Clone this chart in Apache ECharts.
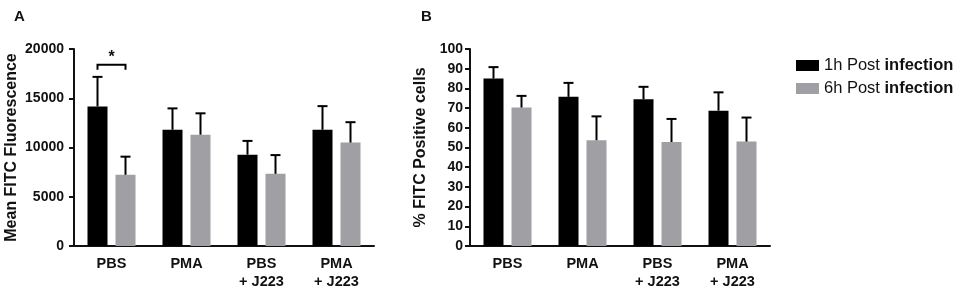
<!DOCTYPE html>
<html>
<head>
<meta charset="utf-8">
<script src="https://cdn.jsdelivr.net/npm/echarts@6/dist/echarts.min.js"></script>
<style>
  html, body { margin: 0; padding: 0; background: #fff; }
  #main { width: 957px; height: 291px; }
</style>
</head>
<body>
<div id="main"></div>
<script>
// Data
var categories = ['PBS', 'PMA', 'PBS\n+ J223', 'PMA\n+ J223'];
var seriesNames = ['1h Post infection', '6h Post infection'];

// Panel A: mean FITC fluorescence (mean, SD)
var mfi1h = [14170, 11800, 9270, 11800];
var mfi1hErr = [3000, 2170, 1400, 2400];
var mfi6h = [7230, 11300, 7330, 10500];
var mfi6hErr = [1840, 2170, 1900, 2070];

// Panel B: % FITC positive cells (mean, SD)
var pct1h = [85, 75.7, 74.5, 68.7];
var pct1hErr = [5.8, 7.1, 6.3, 9.3];
var pct6h = [70.3, 53.7, 52.8, 53];
var pct6hErr = [5.9, 12.1, 11.7, 12.2];

// significance bracket on panel A
var sigCat = 0;
var sigLevel = 18400;
var sigText = '*';

var black = '#000000';
var grey = '#a0a0a4';
var font = 'Liberation Sans, Arial, sans-serif';
var barW = 20;
var half = 14; // distance of each bar centre from the category centre

var myChart = echarts.init(document.getElementById('main'));

function errData(vals, errs) {
  return vals.map(function (v, i) { return [i, v, errs[i]]; });
}

function errSeries(name, xi, vals, errs, dir) {
  return {
    type: 'custom',
    name: name + ' err',
    xAxisIndex: xi,
    yAxisIndex: xi,
    z: 5,
    silent: true,
    encode: { x: 0, y: 1 },
    data: errData(vals, errs),
    renderItem: function (params, api) {
      var p = api.coord([api.value(0), api.value(1)]);
      var t = api.coord([api.value(0), api.value(1) + api.value(2)]);
      var x = p[0] + dir * half;
      var st = { stroke: '#000', lineWidth: 2 };
      return {
        type: 'group',
        children: [
          { type: 'line', shape: { x1: x, y1: p[1], x2: x, y2: t[1] }, style: st },
          { type: 'line', shape: { x1: x - 5, y1: t[1], x2: x + 5, y2: t[1] }, style: st }
        ]
      };
    }
  };
}

function barSeries(name, xi, vals, color) {
  return {
    type: 'bar',
    name: name,
    xAxisIndex: xi,
    yAxisIndex: xi,
    barWidth: barW,
    barGap: '40%',
    itemStyle: { color: color },
    data: vals
  };
}

var axisLine = { lineStyle: { color: '#111', width: 2 } };

function xAxis(gi) {
  return {
    type: 'category',
    gridIndex: gi,
    data: categories,
    axisLine: axisLine,
    axisTick: { alignWithLabel: true, length: 5, lineStyle: { width: 2, color: '#111' } },
    axisLabel: {
      margin: 9, lineHeight: 18, interval: 0,
      color: '#111', fontFamily: font, fontWeight: 'bold', fontSize: 14.5
    }
  };
}

function yAxis(gi, max, interval, name, gap, margin) {
  return {
    type: 'value',
    gridIndex: gi,
    min: 0,
    max: max,
    interval: interval,
    name: name,
    nameLocation: 'middle',
    nameGap: gap,
    nameTextStyle: { color: '#111', fontFamily: font, fontWeight: 'bold', fontSize: 16 },
    axisLine: { show: true, lineStyle: { color: '#111', width: 2 } },
    axisTick: { show: true, length: 5, lineStyle: { width: 2, color: '#111' } },
    axisLabel: {
      margin: margin,
      formatter: function (v) { return String(v); },
      color: '#111', fontFamily: font, fontWeight: 'bold', fontSize: 14
    },
    splitLine: { show: false }
  };
}

var option = {
  animation: false,
  title: [
    { text: 'A', left: 9, top: 4, textStyle: { fontFamily: font, fontWeight: 'bold', fontSize: 15, color: '#111' } },
    { text: 'B', left: 416, top: 4, textStyle: { fontFamily: font, fontWeight: 'bold', fontSize: 15, color: '#111' } }
  ],
  legend: {
    data: seriesNames,
    orient: 'vertical',
    left: 791,
    top: 52,
    itemWidth: 23,
    itemHeight: 11,
    itemGap: 6,
    icon: 'rect',
    formatter: function (name) {
      var parts = name.split(' ');
      return '{n|' + parts[0] + ' ' + parts[1] + ' }{b|' + parts[2] + '}';
    },
    textStyle: {
      rich: {
        n: { fontFamily: font, fontSize: 16.5, lineHeight: 16, color: '#111' },
        b: { fontFamily: font, fontSize: 16.5, lineHeight: 16, fontWeight: 'bold', color: '#111' }
      }
    }
  },
  grid: [
    { left: 74, top: 49, width: 300, height: 200 },
    { left: 470, top: 49, width: 300, height: 200 }
  ],
  xAxis: [xAxis(0), xAxis(1)],
  yAxis: [
    yAxis(0, 20000, 5000, 'Mean FITC Fluorescence', 54, 10),
    yAxis(1, 100, 10, '% FITC Positive cells', 41, 7)
  ],
  series: [
    barSeries(seriesNames[0], 0, mfi1h, black),
    barSeries(seriesNames[1], 0, mfi6h, grey),
    barSeries(seriesNames[0], 1, pct1h, black),
    barSeries(seriesNames[1], 1, pct6h, grey),
    errSeries(seriesNames[0], 0, mfi1h, mfi1hErr, -1),
    errSeries(seriesNames[1], 0, mfi6h, mfi6hErr, 1),
    errSeries(seriesNames[0], 1, pct1h, pct1hErr, -1),
    errSeries(seriesNames[1], 1, pct6h, pct6hErr, 1),
    {
      type: 'custom',
      name: 'sig',
      xAxisIndex: 0,
      yAxisIndex: 0,
      silent: true,
      z: 6,
      data: [[sigCat, sigLevel]],
      renderItem: function (params, api) {
        var p = api.coord([api.value(0), api.value(1)]);
        var x1 = p[0] - half, x2 = p[0] + half;
        return {
          type: 'group',
          children: [
            {
              type: 'polyline',
              shape: { points: [[x1, p[1] + 5], [x1, p[1]], [x2, p[1]], [x2, p[1] + 5]] },
              style: { stroke: '#000', lineWidth: 2, fill: null }
            },
            {
              type: 'text',
              style: {
                x: p[0], y: p[1] + 1, text: sigText, align: 'center', verticalAlign: 'bottom',
                font: 'bold 16px ' + font, fill: '#111'
              }
            }
          ]
        };
      }
    }
  ]
};

myChart.setOption(option);
</script>
</body>
</html>
